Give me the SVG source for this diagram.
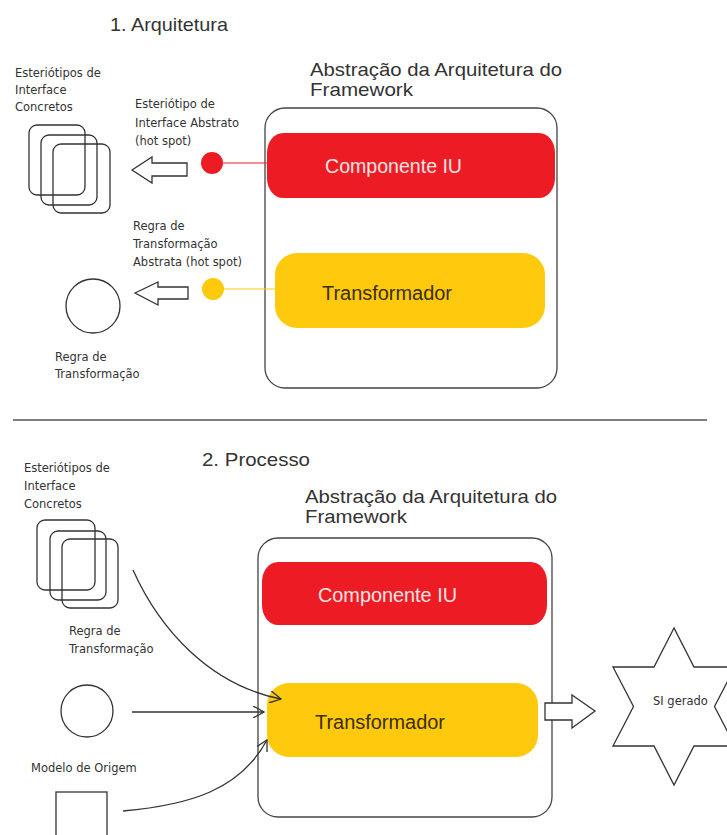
<svg xmlns="http://www.w3.org/2000/svg" width="727" height="835" viewBox="0 0 727 835">
<defs>
<style>
.title{font-family:"Liberation Sans",Arial,sans-serif;font-size:19px;fill:#333}
.lbl{font-family:"DejaVu Sans","Liberation Sans",sans-serif;font-size:11.5px;fill:#333}
.comp{font-family:"Liberation Sans",Arial,sans-serif;font-size:20px}
.shape{fill:#fff;stroke:#333;stroke-width:1.3}
.fw{fill:#fff;stroke:#444;stroke-width:1.3}
.conn{fill:none;stroke:#333;stroke-width:1.3}
.red{fill:#ED1C24}
.yel{fill:#FFC90E}
</style>
<marker id="v" viewBox="0 0 12 12" refX="11" refY="6" markerWidth="12" markerHeight="12" markerUnits="userSpaceOnUse" orient="auto">
<path d="M0,0 L11,6 L0,12" fill="none" stroke="#333" stroke-width="1.3"/>
</marker>
</defs>
<rect width="727" height="835" fill="#fff"/>

<g id="titles">
<text class="title" x="110" y="31" textLength="118" lengthAdjust="spacingAndGlyphs">1. Arquitetura</text>
<text class="title" x="202" y="466" textLength="108" lengthAdjust="spacingAndGlyphs">2. Processo</text>
</g>

<g id="separator">
<line x1="13" y1="420" x2="707" y2="420" stroke="#555" stroke-width="1.5"/>
</g>

<!-- Section 1 -->
<g id="top-concretos">
<rect class="shape" x="29" y="125" width="56" height="70" rx="8"/>
<rect class="shape" x="41" y="135" width="56" height="70" rx="8" fill="none" style="fill:none"/>
<rect class="shape" x="53" y="144" width="57" height="69" rx="8" style="fill:none"/>
<text class="lbl" x="15" y="77">Esteriótipos de</text>
<text class="lbl" x="15" y="94">Interface</text>
<text class="lbl" x="15" y="111">Concretos</text>
</g>

<g id="top-hotspot-iu">
<text class="lbl" x="135" y="108">Esteriótipo de</text>
<text class="lbl" x="135" y="127">Interface Abstrato</text>
<text class="lbl" x="135" y="145">(hot spot)</text>
<circle cx="212" cy="163" r="11" class="red"/>
</g>

<g id="top-hotspot-rule">
<text class="lbl" x="133" y="230">Regra de</text>
<text class="lbl" x="133" y="248">Transformação</text>
<text class="lbl" x="133" y="266">Abstrata (hot spot)</text>
<circle cx="213" cy="289" r="11" class="yel"/>
</g>

<g id="top-regra">
<circle class="shape" cx="93" cy="306" r="27"/>
<text class="lbl" x="55" y="361">Regra de</text>
<text class="lbl" x="55" y="378">Transformação</text>
</g>

<g id="top-framework">
<text class="title" x="310" y="76" textLength="252" lengthAdjust="spacingAndGlyphs">Abstração da Arquitetura do</text>
<text class="title" x="310" y="96" textLength="103" lengthAdjust="spacingAndGlyphs">Framework</text>
<rect class="fw" x="265" y="108" width="292" height="280" rx="20"/>
</g>

<g id="top-componente">
<rect class="red" x="267" y="133" width="288" height="65" rx="16" ry="20"/>
<text class="comp" x="325" y="173" fill="#fde4e4" textLength="137" lengthAdjust="spacingAndGlyphs">Componente IU</text>
</g>

<g id="top-transformador">
<rect class="yel" x="275" y="253" width="270" height="75" rx="22" ry="22"/>
<text class="comp" x="322" y="300" fill="#3a2e05" textLength="130" lengthAdjust="spacingAndGlyphs">Transformador</text>
</g>

<!-- Section 2 -->
<g id="bottom-concretos">
<rect class="shape" x="37" y="520" width="58" height="70" rx="8" style="fill:none"/>
<rect class="shape" x="50" y="531" width="56" height="69" rx="8" style="fill:none"/>
<rect class="shape" x="62" y="539" width="56" height="69" rx="8" style="fill:none"/>
<text class="lbl" x="24" y="472">Esteriótipos de</text>
<text class="lbl" x="24" y="490">Interface</text>
<text class="lbl" x="24" y="508">Concretos</text>
</g>

<g id="bottom-regra">
<text class="lbl" x="69" y="635">Regra de</text>
<text class="lbl" x="69" y="653">Transformação</text>
<circle class="shape" cx="87" cy="711" r="26"/>
</g>

<g id="bottom-modelo">
<text class="lbl" x="31" y="772">Modelo de Origem</text>
<rect class="shape" x="56" y="792" width="51" height="60"/>
</g>

<g id="bottom-framework">
<text class="title" x="305" y="503" textLength="252" lengthAdjust="spacingAndGlyphs">Abstração da Arquitetura do</text>
<text class="title" x="305" y="523" textLength="102" lengthAdjust="spacingAndGlyphs">Framework</text>
<rect class="fw" x="258" y="538" width="294" height="279" rx="20"/>
</g>

<g id="bottom-componente">
<rect class="red" x="262" y="562" width="285" height="63" rx="16" ry="20"/>
<text class="comp" x="318" y="602" fill="#fde4e4" textLength="139" lengthAdjust="spacingAndGlyphs">Componente IU</text>
</g>

<g id="bottom-transformador">
<rect class="yel" x="267" y="683" width="271" height="74" rx="22" ry="22"/>
<text class="comp" x="315" y="729" fill="#3a2e05" textLength="130" lengthAdjust="spacingAndGlyphs">Transformador</text>
</g>

<g id="si-gerado">
<polygon class="shape" points="674,628 654,667 613,667 633.5,706.5 613,746 654,746 674,785 694,746 735,746 714.5,706.5 735,667 694,667"/>
<text class="lbl" x="653" y="705">SI gerado</text>
</g>

<g id="connectors">
<line x1="223" y1="163" x2="267" y2="163" stroke="#ED1C24" stroke-width="1.2"/>
<line x1="224" y1="289" x2="275" y2="289" stroke="#FFC90E" stroke-width="1.2"/>
<polygon class="shape" points="132,170 152,157 152,163 187,163 187,176 152,176 152,183"/>
<polygon class="shape" points="135,293 158,282 158,287 188,287 188,299 158,299 158,305"/>
<path class="conn" d="M133,570 C160,630 210,685 281,699" marker-end="url(#v)"/>
<path class="conn" d="M132,712 L264,712" marker-end="url(#v)"/>
<path class="conn" d="M123,811 C190,805 240,790 267,740" marker-end="url(#v)"/>
<polygon class="shape" points="545,703 572,703 572,695 595,711 572,728 572,720 545,720"/>
</g>
</svg>
